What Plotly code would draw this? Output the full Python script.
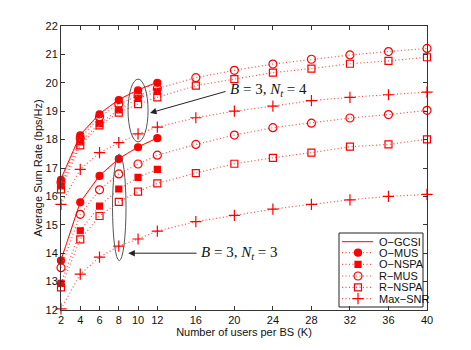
import plotly.graph_objects as go

# x values (users per BS)
k_short = [2, 4, 6, 8, 10, 12]
k_long = [2, 4, 6, 8, 10, 12, 16, 20, 24, 28, 32, 36, 40]
x_ticks = [2, 4, 6, 8, 10, 12, 16, 20, 24, 28, 32, 36, 40]

# B = 3, Nt = 4
gcsi_nt4 = [16.62, 18.17, 18.91, 19.41, 19.75, 20.02]
omus_nt4 = [16.58, 18.15, 18.89, 19.39, 19.73, 20.0]
onspa_nt4 = [16.37, 17.92, 18.56, 19.05, 19.45, 19.7]
rmus_nt4 = [16.5, 18.05, 18.8, 19.25, 19.55, 19.8, 20.18, 20.44, 20.66, 20.83, 20.98, 21.1, 21.21]
rnspa_nt4 = [16.25, 17.8, 18.5, 18.95, 19.25, 19.49, 19.9, 20.13, 20.36, 20.5, 20.67, 20.77, 20.9]
maxsnr_nt4 = [15.72, 16.95, 17.54, 17.89, 18.2, 18.44, 18.77, 19.0, 19.18, 19.37, 19.49, 19.58, 19.67]

# B = 3, Nt = 3
gcsi_nt3 = [13.76, 15.8, 16.73, 17.33, 17.74, 18.06]
omus_nt3 = [13.74, 15.79, 16.72, 17.32, 17.73, 18.05]
onspa_nt3 = [12.94, 14.79, 15.66, 16.26, 16.67, 16.95]
rmus_nt3 = [13.49, 15.37, 16.23, 16.79, 17.14, 17.45, 17.83, 18.16, 18.42, 18.58, 18.76, 18.88, 19.03]
rnspa_nt3 = [12.8, 14.49, 15.31, 15.81, 16.17, 16.46, 16.82, 17.15, 17.36, 17.54, 17.75, 17.83, 18.01]
maxsnr_nt3 = [12.04, 13.26, 13.86, 14.25, 14.5, 14.78, 15.11, 15.33, 15.55, 15.72, 15.88, 16.0, 16.07]

legend_names = ["O\u2212GCSI", "O\u2212MUS", "O\u2212NSPA", "R\u2212MUS", "R\u2212NSPA", "Max\u2212SNR"]

RED = "#ff0000"
DOT = "#ff4d4d"
INK = "#111111"

# name -> (symbol, size, solid line?)
STYLES = {
    "O\u2212GCSI": (None, 0, True),
    "O\u2212MUS": ("circle", 7, False),
    "O\u2212NSPA": ("square", 6, False),
    "R\u2212MUS": ("circle-open", 8, False),
    "R\u2212NSPA": ("square-open", 7, False),
    "Max\u2212SNR": ("cross-thin-open", 8, False),
}

# the page body adds an 8px offset, so the figure is drawn 8px smaller/left/up
PAD = 8
W, H = 471 - PAD, 350 - PAD
PLOT_L, PLOT_R, PLOT_T, PLOT_B = 61, 427, 26, 310  # plot area in window pixels


def line_style(solid):
    if solid:
        return dict(color=RED, width=1)
    return dict(color=DOT, width=1.2, dash="1px,2.5px")


def marker_style(symbol, size):
    return dict(symbol=symbol, size=size, color=RED, line=dict(color=RED, width=1.2))


fig = go.Figure()


def add(x, y, name, xaxis="x", yaxis="y"):
    symbol, size, solid = STYLES[name]
    mode = "lines" if symbol is None else "lines+markers"
    fig.add_trace(go.Scatter(
        x=x, y=y, name=name, mode=mode, line=line_style(solid),
        marker=marker_style(symbol, size) if symbol else None,
        showlegend=False, cliponaxis=False, xaxis=xaxis, yaxis=yaxis))


for series in (
    (gcsi_nt4, omus_nt4, onspa_nt4, rmus_nt4, rnspa_nt4, maxsnr_nt4),
    (gcsi_nt3, omus_nt3, onspa_nt3, rmus_nt3, rnspa_nt3, maxsnr_nt3),
):
    for i, (name, vals) in enumerate(zip(legend_names, series)):
        add(k_short if i < 3 else k_long, vals, name)

# ellipses around the two groups
GRAY = "#555555"
fig.add_shape(type="circle", xref="x", yref="y", x0=8.96, x1=11.04, y0=17.92, y1=20.13,
              line=dict(color=GRAY, width=1))
fig.add_shape(type="circle", xref="x", yref="y", x0=7.35, x1=8.75, y0=13.74, y1=17.49,
              line=dict(color=GRAY, width=1))

# arrows
fig.add_annotation(x=11.24, y=18.94, ax=19.24, ay=19.71, axref="x", ayref="y",
                   text="", showarrow=True, arrowhead=2, arrowsize=1.3,
                   arrowwidth=1, arrowcolor="#222222")
fig.add_annotation(x=8.99, y=14.0, ax=16.23, ay=14.0, axref="x", ayref="y",
                   text="", showarrow=True, arrowhead=2, arrowsize=1.3,
                   arrowwidth=1, arrowcolor="#222222")

SERIF = dict(family="Liberation Serif, DejaVu Serif, serif", size=15, color=INK)
fig.add_annotation(x=19.35, y=19.75, xanchor="left", yanchor="middle", showarrow=False,
                   text="<i>B</i> = 3, <i>N</i><sub><i>t</i></sub> = 4", font=SERIF)
fig.add_annotation(x=16.3, y=14.0, xanchor="left", yanchor="middle", showarrow=False,
                   text="<i>B</i> = 3, <i>N</i><sub><i>t</i></sub> = 3", font=SERIF)

# hand-drawn legend on a pixel-scaled overlay axis (MATLAB-like compact box)
fig.add_shape(type="rect", xref="x2", yref="y2", x0=339, x1=423, y0=233, y1=307,
              line=dict(color="#222222", width=1), fillcolor="white", layer="below")
row_y = [241.7, 252.7, 264.3, 276.0, 287.3, 298.7]
for name, ry in zip(legend_names, row_y):
    symbol, size, solid = STYLES[name]
    fig.add_trace(go.Scatter(x=[342, 373], y=[ry, ry], mode="lines", line=line_style(solid),
                             showlegend=False, xaxis="x2", yaxis="y2", cliponaxis=False))
    if symbol:
        fig.add_trace(go.Scatter(x=[358], y=[ry], mode="markers",
                                 marker=marker_style(symbol, size),
                                 showlegend=False, xaxis="x2", yaxis="y2", cliponaxis=False))
    fig.add_annotation(x=377, y=ry, xref="x2", yref="y2", xanchor="left", yanchor="middle",
                       showarrow=False, text=name, font=dict(size=11, color=INK))

axis_common = dict(showline=True, linecolor="#333333", linewidth=1, mirror="allticks",
                   ticks="inside", ticklen=4, tickcolor="#333333", showgrid=False,
                   zeroline=False, automargin=False, tickfont=dict(size=11, color=INK))

fig.update_layout(
    template="none",
    width=W, height=H,
    margin=dict(l=PLOT_L - PAD, r=W - (PLOT_R - PAD), t=PLOT_T - PAD, b=H - (PLOT_B - PAD)),
    paper_bgcolor="white", plot_bgcolor="white",
    font=dict(family="Liberation Sans, Arial, sans-serif", size=11, color=INK),
    showlegend=False,
    xaxis=dict(range=[2, 40], tickvals=x_ticks,
               title=dict(text="Number of users per BS (K)", font=dict(size=11, color=INK),
                          standoff=3), **axis_common),
    yaxis=dict(range=[12, 22], dtick=1,
               title=dict(text="Average Sum Rate (bps/Hz)", font=dict(size=11, color=INK),
                          standoff=0), **axis_common),
    xaxis2=dict(range=[PLOT_L, PLOT_R], overlaying="x", visible=False, anchor="y2"),
    yaxis2=dict(range=[PLOT_B, PLOT_T], overlaying="y", visible=False, anchor="x2"),
)

fig.write_html("out.html")
